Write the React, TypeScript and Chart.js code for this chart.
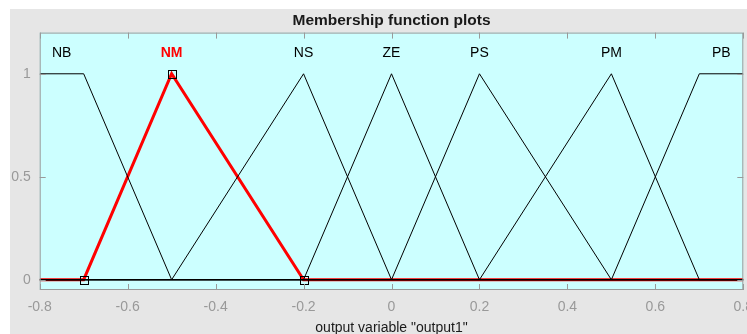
import React, { useEffect, useRef } from "react";
import { Chart, registerables } from "chart.js";

Chart.register(...registerables);

// Membership function names and label positions
const mfNames = ["NB", "NM", "NS", "ZE", "PS", "PM", "PB"];
const mfLabelX = [-0.75, -0.5, -0.2, 0, 0.2, 0.5, 0.75];
const mfLabelY = 1.1;

// Breakpoints of each membership function (x, membership)
const nbX = [-0.8, -0.7, -0.5, 0.8];
const nbY = [1, 1, 0, 0];
const nmX = [-0.8, -0.7, -0.5, -0.2, 0.8];
const nmY = [0, 0, 1, 0, 0];
const nmMarker = [false, true, true, true, false];
const nsX = [-0.8, -0.5, -0.2, 0, 0.8];
const nsY = [0, 0, 1, 0, 0];
const zeX = [-0.8, -0.2, 0, 0.2, 0.8];
const zeY = [0, 0, 1, 0, 0];
const psX = [-0.8, 0, 0.2, 0.5, 0.8];
const psY = [0, 0, 1, 0, 0];
const pmX = [-0.8, 0.2, 0.5, 0.7, 0.8];
const pmY = [0, 0, 1, 0, 0];
const pbX = [-0.8, 0.5, 0.7, 0.8];
const pbY = [0, 0, 1, 1];

const xTicks = [-0.8, -0.6, -0.4, -0.2, 0, 0.2, 0.4, 0.6, 0.8];
const yTicks = [0, 0.5, 1];
const selected = "NM";

const toPts = (xs: number[], ys: number[]) => xs.map((x, i) => ({ x, y: ys[i] }));

const FONT = "'Liberation Sans', Arial, Helvetica, sans-serif";

export default function App() {
  const ref = useRef<HTMLCanvasElement | null>(null);
  useEffect(() => {
    if (!ref.current) return;
    const black = (label: string, xs: number[], ys: number[]) => ({
      label,
      data: toPts(xs, ys),
      borderColor: "#000000",
      borderWidth: 1,
      pointRadius: 0,
      fill: false,
      tension: 0,
      order: 0,
    });
    const framePlugin = {
      id: "frame",
      beforeDraw(chart: any) {
        const { ctx, chartArea: a, width, height } = chart;
        ctx.save();
        ctx.fillStyle = "#ffffff";
        ctx.fillRect(0, 0, width, height);
        ctx.fillStyle = "#e6e6e6";
        ctx.fillRect(10, 9, width - 10, height - 9);
        ctx.fillStyle = "#ccffff";
        ctx.fillRect(a.left, a.top, a.right - a.left, a.bottom - a.top);
        ctx.restore();
      },
      afterDatasetsDraw(chart: any) {
        // markers of the selected MF drawn on top
        const meta = chart.getDatasetMeta(0);
        const { ctx } = chart;
        ctx.save();
        ctx.strokeStyle = "#000000";
        ctx.lineWidth = 1;
        meta.data.forEach((el: any, i: number) => {
          if (!nmMarker[i]) return;
          const x = Math.round(el.x);
          const y = Math.round(el.y);
          ctx.strokeRect(x - 3.5, y - 3.5, 8, 8);
        });
        ctx.restore();
      },
      afterDraw(chart: any) {
        const { ctx, chartArea: a, scales } = chart;
        ctx.save();
        ctx.strokeStyle = "#9a9a9a";
        ctx.lineWidth = 1;
        ctx.strokeRect(a.left + 0.5, a.top + 0.5, a.right - a.left - 1, a.bottom - a.top - 1);
        ctx.beginPath();
        for (const t of xTicks) {
          const px = Math.round(scales.x.getPixelForValue(t)) + 0.5;
          ctx.moveTo(px, a.top);
          ctx.lineTo(px, a.top + 6);
          ctx.moveTo(px, a.bottom);
          ctx.lineTo(px, a.bottom - 6);
        }
        for (const t of yTicks) {
          const py = Math.round(scales.y.getPixelForValue(t)) + 0.5;
          ctx.moveTo(a.left, py);
          ctx.lineTo(a.left + 6, py);
          ctx.moveTo(a.right, py);
          ctx.lineTo(a.right - 6, py);
        }
        ctx.stroke();
        // MF name labels
        ctx.textAlign = "center";
        ctx.textBaseline = "middle";
        mfNames.forEach((n, i) => {
          const px = scales.x.getPixelForValue(mfLabelX[i]);
          const py = scales.y.getPixelForValue(mfLabelY);
          if (n === selected) {
            ctx.fillStyle = "#ff0000";
            ctx.font = `bold 14px ${FONT}`;
          } else {
            ctx.fillStyle = "#000000";
            ctx.font = `14px ${FONT}`;
          }
          ctx.fillText(n, px, py);
        });
        ctx.restore();
      },
    };

    const chart = new Chart(ref.current, {
      type: "line",
      data: {
        datasets: [
          {
            label: "NM",
            data: toPts(nmX, nmY),
            borderColor: "#ff0000",
            borderWidth: 3,
            pointRadius: 0,
            fill: false,
            tension: 0,
            order: 1,
          } as any,
          black("NB", nbX, nbY),
          black("NS", nsX, nsY),
          black("ZE", zeX, zeY),
          black("PS", psX, psY),
          black("PM", pmX, pmY),
          black("PB", pbX, pbY),
        ],
      },
      options: {
        animation: false,
        responsive: false,
        devicePixelRatio: 1,
        layout: { padding: { left: 0, right: 3.7, top: 0, bottom: 0 } },
        plugins: {
          legend: { display: false },
          tooltip: { enabled: false },
          title: {
            display: true,
            fullSize: false,
            text: "Membership function plots",
            color: "#1a1a1a",
            font: { family: FONT, size: 15.5, weight: "bold", lineHeight: 1.2 },
            padding: { top: 11, bottom: 3 },
          },
        },
        scales: {
          x: {
            type: "linear",
            min: -0.8,
            max: 0.8,
            afterBuildTicks: (s: any) => {
              s.ticks = xTicks.map((v) => ({ value: v }));
            },
            afterFit: (s: any) => {
              s.height = 44;
              s.paddingLeft = 0;
              s.paddingRight = 0;
            },
            grid: { display: false, drawTicks: false },
            border: { display: false },
            ticks: {
              color: "#999999",
              padding: 8.6,
              maxRotation: 0,
              autoSkip: false,
              font: { family: FONT, size: 14 },
              callback: (v: any) => String(Math.round(Number(v) * 10) / 10),
            },
            title: {
              display: true,
              text: 'output variable "output1"',
              color: "#1a1a1a",
              font: { family: FONT, size: 14, lineHeight: 0.8 },
              padding: { top: 0, bottom: 0 },
            },
          },
          y: {
            type: "linear",
            min: -0.05,
            max: 1.2,
            afterBuildTicks: (s: any) => {
              s.ticks = yTicks.map((v) => ({ value: v }));
            },
            afterFit: (s: any) => {
              s.width = 39.7;
              s.paddingTop = 0;
              s.paddingBottom = 0;
            },
            grid: { display: false, drawTicks: false },
            border: { display: false },
            ticks: {
              color: "#999999",
              padding: 9,
              autoSkip: false,
              font: { family: FONT, size: 14 },
              callback: (v: any) => String(v),
            },
          },
        },
      } as any,
      plugins: [framePlugin],
    });
    return () => chart.destroy();
  }, []);
  return (
    <div style={{ position: "absolute", left: 0, top: 0, width: 747, height: 334 }}>
      <canvas ref={ref} width={747} height={334} style={{ display: "block" }} />
    </div>
  );
}
